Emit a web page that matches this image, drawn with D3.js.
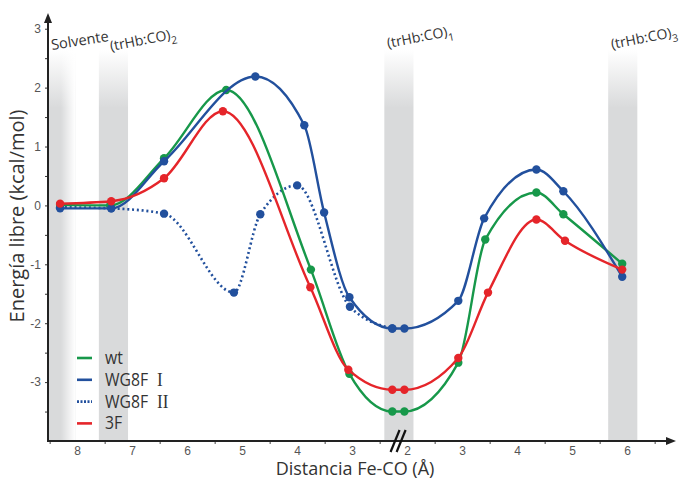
<!DOCTYPE html>
<html>
<head>
<meta charset="utf-8">
<script src="https://cdn.jsdelivr.net/npm/d3@7"></script>
<style>
  body { margin: 0; background: #fff; }
  svg { font-family: 'Open Sans', 'Noto Sans', sans-serif; }
</style>
</head>
<body>
<div id="chart"></div>
<script>
// approach branch ("In", distance shrinking towards the heme) and exit branch ("Out")
const wtDistIn = [8.31, 7.40, 6.42, 5.29, 3.75, 3.05, 2.27];
const wtEnergyIn = [0.01, 0.00, 0.80, 1.96, -1.09, -2.86, -3.50];
const wtDistOut = [1.95, 2.93, 3.42, 4.35, 4.84, 5.91];
const wtEnergyOut = [-3.50, -2.67, -0.58, 0.22, -0.15, -0.99];

const w1DistIn = [8.31, 7.38, 6.42, 4.76, 3.87, 3.51, 3.05, 2.27];
const w1EnergyIn = [-0.05, -0.05, 0.75, 2.19, 1.36, -0.12, -1.56, -2.09];
const w1DistOut = [1.95, 2.93, 3.40, 4.35, 4.84, 5.91];
const w1EnergyOut = [-2.09, -1.62, -0.22, 0.61, 0.24, -1.21];

const w2DistIn = [8.31, 7.38, 6.42, 5.15, 4.67, 4.00, 3.04, 2.27];
const w2EnergyIn = [-0.03, -0.05, -0.14, -1.48, -0.15, 0.34, -1.72, -2.09];

const f3DistIn = [8.31, 7.38, 6.42, 5.35, 3.76, 3.07, 2.27];
const f3EnergyIn = [0.03, 0.07, 0.46, 1.60, -1.39, -2.79, -3.13];
const f3DistOut = [1.95, 2.93, 3.47, 4.35, 4.87, 5.91];
const f3EnergyOut = [-3.13, -2.59, -1.48, -0.24, -0.60, -1.09];

const xTicksIn = [8, 7, 6, 5, 4, 3, 2];
const xTicksOut = [3, 4, 5, 6];
const yTicks = [-3, -2, -1, 0, 1, 2, 3];

const bandNames = ['Solvente', '(trHb:CO)|2', '(trHb:CO)|1', '(trHb:CO)|3'];
const bandDist = [8.30, 7.34, 2.15, 5.92];
const bandSide = ['in', 'in', 'in', 'out'];

const width = 689;
const height = 480;

// one running coordinate: 8 -> 0 ... 2 -> 6 on the way in, then 3 -> 7 ... 6 -> 10
function toU(d, side) {
  return side === 'in' ? 8 - d : d + 4;
}

const x = d3.scaleLinear().domain([-0.53, 10.87]).range([48, 675]);
const y = d3.scaleLinear().domain([-4, 3.25]).range([441, 14]);

const svg = d3.select('#chart').append('svg')
  .attr('width', width)
  .attr('height', height);

const defs = svg.append('defs');
const vGrad = defs.append('linearGradient')
  .attr('id', 'bandFade')
  .attr('gradientUnits', 'userSpaceOnUse')
  .attr('x1', 0).attr('x2', 0).attr('y1', 50).attr('y2', 108);
vGrad.append('stop').attr('offset', 0).attr('stop-color', '#d9dadb').attr('stop-opacity', 0);
vGrad.append('stop').attr('offset', 1).attr('stop-color', '#d9dadb').attr('stop-opacity', 1);

const hGrad = defs.append('linearGradient')
  .attr('id', 'solvFade')
  .attr('x1', 0).attr('x2', 1).attr('y1', 0).attr('y2', 0);
hGrad.append('stop').attr('offset', 0.45).attr('stop-color', '#fff').attr('stop-opacity', 0);
hGrad.append('stop').attr('offset', 1).attr('stop-color', '#fff').attr('stop-opacity', 1);

// grey bands
const bandW = 0.53;
bandDist.forEach((d, i) => {
  const u = toU(d, bandSide[i]);
  const x0 = Math.max(x(u - bandW / 2), x.range()[0] + 1);
  const x1 = x(u + bandW / 2);
  svg.append('rect')
    .attr('x', x0).attr('y', 50)
    .attr('width', x1 - x0).attr('height', y(-4) - 50)
    .attr('fill', 'url(#bandFade)');
  if (i === 0) {
    svg.append('rect')
      .attr('x', x0).attr('y', 50)
      .attr('width', x1 - x0).attr('height', y(-4) - 50)
      .attr('fill', 'url(#solvFade)');
  }
});

// band labels
const labelPos = [[52, 50, -9], [111, 51, -11], [388, 48, -11], [612, 49, -11]];
bandNames.forEach((name, i) => {
  const parts = name.split('|');
  const p = labelPos[i];
  const t = svg.append('text')
    .attr('transform', 'translate(' + p[0] + ',' + p[1] + ') rotate(' + p[2] + ')')
    .attr('font-size', i === 0 ? 14.5 : 14)
    .attr('fill', '#333');
  t.append('tspan').text(parts[0]);
  if (parts[1]) {
    t.append('tspan').attr('dy', 5).attr('font-size', 10.5).text(parts[1]);
  }
});

// x axis
const xMajor = xTicksIn.map((d) => toU(d, 'in')).concat(xTicksOut.map((d) => toU(d, 'out')));
const xLabels = xTicksIn.concat(xTicksOut);
const xAxis = d3.axisBottom(x)
  .tickValues(xMajor)
  .tickSize(0)
  .tickPadding(5)
  .tickFormat((d, i) => String(xLabels[i]));
const gx = svg.append('g')
  .attr('transform', 'translate(0,' + y(-4) + ')')
  .call(xAxis);
gx.select('.domain').remove();
gx.selectAll('text').attr('font-size', 12).attr('fill', '#555').attr('font-family', null);

const xMinor = d3.range(-0.5, 10.6, 1);
const gxm = svg.append('g')
  .attr('transform', 'translate(0,' + y(-4) + ')')
  .call(d3.axisBottom(x).tickValues(xMinor).tickSize(3).tickFormat(''));
gxm.select('.domain').remove();
gxm.selectAll('line').attr('stroke', '#444');

// y axis
const gy = svg.append('g')
  .attr('transform', 'translate(' + x.range()[0] + ',0)')
  .call(d3.axisLeft(y).tickValues(yTicks).tickSize(3).tickPadding(4).tickFormat((d) => d.toString()));
gy.select('.domain').remove();
gy.selectAll('text').attr('font-size', 12).attr('fill', '#555').attr('font-family', null);
gy.selectAll('line').attr('stroke', '#333');

const gym = svg.append('g')
  .attr('transform', 'translate(' + x.range()[0] + ',0)')
  .call(d3.axisLeft(y).tickValues(d3.range(-3.5, 3, 1)).tickSize(3).tickFormat(''));
gym.select('.domain').remove();
gym.selectAll('line').attr('stroke', '#333');

// axis lines with arrows
svg.append('line')
  .attr('x1', x.range()[0]).attr('x2', 668)
  .attr('y1', y(-4)).attr('y2', y(-4))
  .attr('stroke', '#222').attr('stroke-width', 2);
svg.append('path')
  .attr('d', 'M' + 676 + ',' + y(-4) + 'l-10,-4l0,8z')
  .attr('fill', '#222');
svg.append('line')
  .attr('x1', x.range()[0]).attr('x2', x.range()[0])
  .attr('y1', y(-4) + 1).attr('y2', 22)
  .attr('stroke', '#222').attr('stroke-width', 2);
svg.append('path')
  .attr('d', 'M' + x.range()[0] + ',13l-4,10l8,0z')
  .attr('fill', '#222');

// axis break
[5.78, 5.89].forEach((u) => {
  svg.append('line')
    .attr('x1', x(u) - 4.5).attr('y1', y(-4) + 11)
    .attr('x2', x(u) + 4.5).attr('y2', y(-4) - 11)
    .attr('stroke', '#111').attr('stroke-width', 2.2);
});

// axis titles
svg.append('text')
  .attr('x', 355).attr('y', 474.5)
  .attr('text-anchor', 'middle')
  .attr('font-size', 18)
  .attr('fill', '#333')
  .text('Distancia Fe-CO (Å)');
svg.append('text')
  .attr('transform', 'translate(24,216) rotate(-90)')
  .attr('text-anchor', 'middle')
  .attr('font-size', 20)
  .attr('fill', '#333')
  .text('Energía libre (kcal/mol)');

// series
function pts(distIn, eIn, distOut, eOut) {
  const a = distIn.map((d, i) => [toU(d, 'in'), eIn[i]]);
  const b = (distOut || []).map((d, i) => [toU(d, 'out'), eOut[i]]);
  return a.concat(b);
}

const series = [
  { name: 'wt', color: '#17984a', dash: null, data: pts(wtDistIn, wtEnergyIn, wtDistOut, wtEnergyOut) },
  { name: 'WG8F', roman: 'I', color: '#22509d', dash: null, data: pts(w1DistIn, w1EnergyIn, w1DistOut, w1EnergyOut) },
  { name: 'WG8F', roman: 'II', color: '#22509d', dash: '2,2.8', data: pts(w2DistIn, w2EnergyIn) },
  { name: '3F', color: '#e5252a', dash: null, data: pts(f3DistIn, f3EnergyIn, f3DistOut, f3EnergyOut) }
];

const line = d3.line()
  .x((d) => x(d[0]))
  .y((d) => y(d[1]))
  .curve(d3.curveMonotoneX);

[2, 0, 1, 3].forEach((k) => {
  const s = series[k];
  svg.append('path')
    .datum(s.data)
    .attr('d', line)
    .attr('fill', 'none')
    .attr('stroke', s.color)
    .attr('stroke-width', s.dash ? 2.6 : 2.4)
    .attr('stroke-dasharray', s.dash);
  svg.append('g').selectAll('circle')
    .data(s.data)
    .join('circle')
    .attr('cx', (d) => x(d[0]))
    .attr('cy', (d) => y(d[1]))
    .attr('r', 4.2)
    .attr('fill', s.color);
});

// legend
const legend = svg.append('g').attr('transform', 'translate(77,358)');
series.forEach((s, i) => {
  const row = legend.append('g').attr('transform', 'translate(0,' + (i * 21.8) + ')');
  row.append('line')
    .attr('x1', 0).attr('x2', 15)
    .attr('stroke', s.color)
    .attr('stroke-width', 2.6)
    .attr('stroke-dasharray', s.dash ? '2,1.5' : null);
  const t = row.append('text')
    .attr('transform', 'translate(28,6) scale(0.9,1)')
    .attr('font-size', 17.5)
    .attr('fill', '#333');
  t.append('tspan').text(s.name);
  if (s.roman) {
    t.append('tspan')
      .attr('dx', 10)
      .attr('font-size', 19)
      .attr('font-family', "'Liberation Serif', 'DejaVu Serif', serif")
      .text(s.roman);
  }
});
</script>
</body>
</html>
